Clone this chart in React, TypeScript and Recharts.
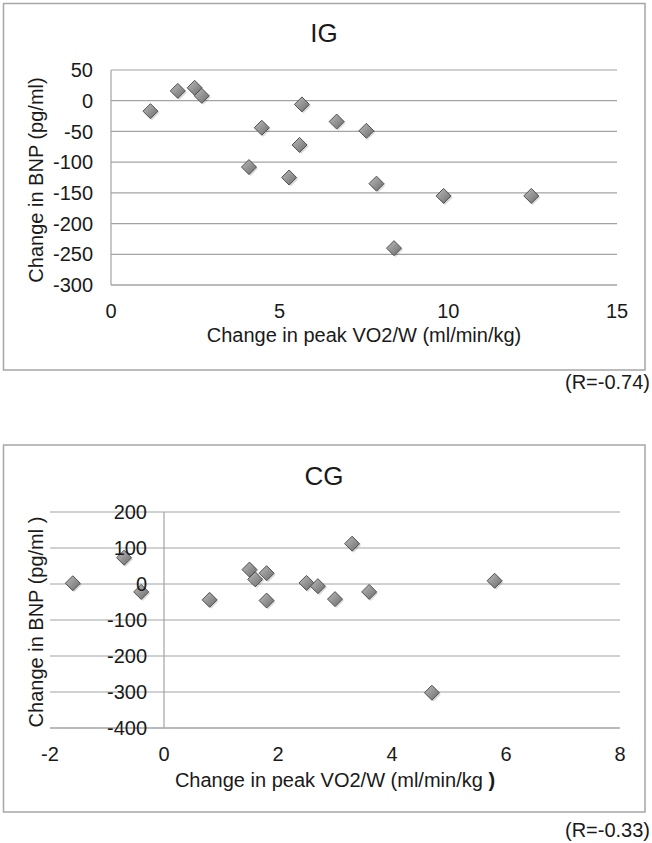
import React from 'react';
import { ScatterChart, Scatter, XAxis, YAxis, CartesianGrid, ReferenceLine } from 'recharts';

// ---- IG (intervention group) ----
const igX = [1.17, 1.98, 2.48, 2.69, 5.66, 4.47, 6.69, 7.57, 5.59, 4.09, 5.28, 7.87, 9.86, 12.46, 8.39];
const igY = [-17, 16, 21, 8, -6, -44, -34, -49, -72, -108, -125, -135, -155, -155, -240];
const igXTicks = [0, 5, 10, 15];
const igYTicks = [-300, -250, -200, -150, -100, -50, 0, 50];

// ---- CG (control group) ----
const cgX = [-1.6, -0.7, -0.4, 0.8, 1.5, 1.6, 1.8, 1.8, 2.5, 2.7, 3.0, 3.3, 3.6, 4.7, 5.8];
const cgY = [2, 73, -22, -44, 40, 13, 30, -46, 3, -6, -42, 112, -22, -302, 9];
const cgXTicks = [-2, 0, 2, 4, 6, 8];
const cgYTicks = [-400, -300, -200, -100, 0, 100, 200];

const igData = igX.map((x, i) => ({ x, y: igY[i] }));
const cgData = cgX.map((x, i) => ({ x, y: cgY[i] }));

const FONT = '"Liberation Sans", Arial, Helvetica, sans-serif';
const TEXT = '#1a1a1a';
const GRID = '#a3a3a3';
const tickStyle = { fontSize: 20, fill: TEXT, fontFamily: FONT };

const Diamond = (props: any) => {
  const { cx, cy } = props;
  if (cx == null || cy == null) return null;
  const r = 7.5;
  const pts = (dx: number, dy: number) =>
    `${cx + dx},${cy - r + dy} ${cx + r + dx},${cy + dy} ${cx + dx},${cy + r + dy} ${cx - r + dx},${cy + dy}`;
  return (
    <g>
      <polygon points={pts(1.5, 1.5)} fill="#000" opacity={0.15} />
      <polygon points={pts(0, 0)} fill="url(#diamondGrad)" stroke="#505050" strokeWidth={1} />
    </g>
  );
};

// CG chart geometry: y-axis labels sit next to the x=0 axis
const CG_LEFT = 10;
const CG_YW = 40;
const CG_RIGHT = 32;
const CG_W = 652;
const CG_PLOT_W = CG_W - CG_LEFT - CG_YW - CG_RIGHT;
const cgShift =
  (CG_PLOT_W * (0 - cgXTicks[0])) / (cgXTicks[cgXTicks.length - 1] - cgXTicks[0]);

const CgYTick = (props: any) => {
  const { x, y, payload } = props;
  return (
    <text x={x + cgShift} y={y} dy="0.355em" textAnchor="end" fontSize={20} fill={TEXT} fontFamily={FONT}>
      {payload.value}
    </text>
  );
};

export default function App() {
  return (
    <div style={{ position: 'absolute', left: 0, top: 0, width: 652, height: 843, background: '#fff' }}>
      <svg width={0} height={0} style={{ position: 'absolute' }}>
        <defs>
          <linearGradient id="diamondGrad" x1="0" y1="0" x2="1" y2="1">
            <stop offset="0%" stopColor="#bdbdbd" />
            <stop offset="100%" stopColor="#6a6a6a" />
          </linearGradient>
        </defs>
      </svg>

      <div style={{ position: 'absolute', left: 0, top: 0 }}>
        <ScatterChart width={652} height={420} margin={{ top: 70, right: 35, bottom: 95, left: 51 }}>
          <CartesianGrid vertical={false} stroke={GRID} strokeWidth={1.2} />
          <XAxis
            type="number"
            dataKey="x"
            domain={[0, 15]}
            ticks={igXTicks}
            tickSize={0}
            tickMargin={19}
            height={40}
            tick={tickStyle}
            axisLine={{ stroke: GRID, strokeWidth: 1.2 }}
            tickLine={false}
          />
          <YAxis
            type="number"
            dataKey="y"
            domain={[-300, 50]}
            ticks={igYTicks}
            width={60}
            tickSize={0}
            tickMargin={18}
            tick={tickStyle}
            axisLine={{ stroke: GRID, strokeWidth: 1.2 }}
            tickLine={false}
          />
          <Scatter data={igData} shape={Diamond} isAnimationActive={false} />
        </ScatterChart>
      </div>

      <div style={{ position: 'absolute', left: 0, top: 430 }}>
        <ScatterChart width={CG_W} height={413} margin={{ top: 82, right: CG_RIGHT, bottom: 75, left: CG_LEFT }}>
          <CartesianGrid vertical={false} stroke={GRID} strokeWidth={1.2} />
          <XAxis
            type="number"
            dataKey="x"
            domain={[-2, 8]}
            ticks={cgXTicks}
            tickSize={0}
            tickMargin={19}
            height={40}
            tick={tickStyle}
            axisLine={{ stroke: GRID, strokeWidth: 1.2 }}
            tickLine={false}
          />
          <YAxis
            type="number"
            dataKey="y"
            domain={[-400, 200]}
            ticks={cgYTicks}
            width={CG_YW}
            tickSize={0}
            tickMargin={17}
            tick={<CgYTick />}
            axisLine={false}
            tickLine={false}
          />
          <ReferenceLine x={0} stroke={GRID} strokeWidth={1.2} />
          <Scatter data={cgData} shape={Diamond} isAnimationActive={false} />
        </ScatterChart>
      </div>

      <svg
        width={652}
        height={843}
        style={{ position: 'absolute', left: 0, top: 0, pointerEvents: 'none' }}
        fontFamily={FONT}
        fill={TEXT}
      >
        <rect x={3.5} y={3.5} width={641.5} height={366.5} fill="none" stroke="#a6a6a6" strokeWidth={1.5} />
        <rect x={3.5} y={445} width={641.5} height={367} fill="none" stroke="#a6a6a6" strokeWidth={1.5} />

        <text x={324} y={42} fontSize={26} textAnchor="middle">IG</text>
        <text x={364} y={342} fontSize={20} textAnchor="middle">Change in peak VO2/W (ml/min/kg)</text>
        <text x={43} y={180} fontSize={20} textAnchor="middle" transform="rotate(-90 43 180)">
          Change in BNP (pg/ml)
        </text>
        <text x={650} y={389} fontSize={20} textAnchor="end">(R=-0.74)</text>

        <text x={324} y={484.5} fontSize={26} textAnchor="middle">CG</text>
        <text x={335} y={787} fontSize={20} textAnchor="middle">
          Change in peak VO2/W (ml/min/kg <tspan fontWeight="bold">)</tspan>
        </text>
        <text x={43} y={622} fontSize={20} textAnchor="middle" transform="rotate(-90 43 622)">
          Change in BNP (pg/ml )
        </text>
        <text x={650} y={837} fontSize={20} textAnchor="end">(R=-0.33)</text>
      </svg>
    </div>
  );
}
